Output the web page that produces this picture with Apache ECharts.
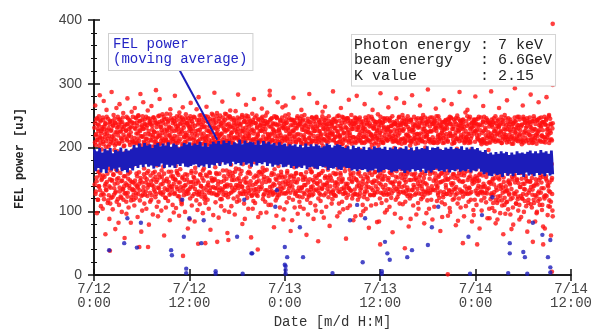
<!DOCTYPE html>
<html>
<head>
<meta charset="utf-8">
<script src="https://cdn.jsdelivr.net/npm/echarts@6/dist/echarts.min.js"></script>
<style>
  html, body { margin: 0; padding: 0; background: #fff; }
  #chart { width: 594px; height: 332px; }
</style>
</head>
<body>
<div id="chart"></div>
<script>
// Time axis in hours from 7/12 0:00; samples run from T_START to T_END.
const T_START = 0.05;
const T_END = 57.7;

const tickLabels = ['7/12\n0:00', '7/12\n12:00', '7/13\n0:00', '7/13\n12:00', '7/14\n0:00', '7/14\n12:00'];

// Shot-by-shot FEL power [uJ], one string per hour of running (detector A)
const shotPowerA = [
  '231 142 208 266 127 219 188 244 153 97 212 171 236 118 226 139 249 203 161 282 133 215 241 108 222 149 197 229',
  '214 128 247 156 205 273 119 233 181 140 221 64 238 134 210 259 146 227 192 113 245 168 201 125 218 88 236 150',
  '242 137 209 121 228 287 149 217 175 103 235 158 251 126 213 196 143 239 72 224 131 206 262 115 231 163 144 248',
  '219 152 236 110 207 268 131 244 186 123 225 147 213 99 240 167 135 229 254 118 202 139 233 58 216 155 192 128',
  '226 115 248 141 211 277 129 237 159 106 220 184 243 136 204 148 231 82 217 122 256 170 239 133 209 145 196 118',
  '238 133 215 262 148 229 194 121 246 159 207 139 234 91 222 127 250 176 211 143 241 117 226 284 152 203 68 232',
  '217 145 243 126 230 271 138 209 167 112 237 153 221 198 131 248 104 214 160 235 124 258 207 142 226 79 191 240',
  '245 129 212 156 236 118 265 201 141 228 183 95 219 150 247 134 224 203 162 239 122 209 290 146 232 107 172 216',
  '223 137 249 115 218 158 240 276 130 206 187 142 233 101 227 154 214 252 126 239 170 211 148 62 244 136 199 221',
  '236 121 210 147 253 228 134 204 179 116 242 162 219 140 231 86 208 260 128 246 155 225 193 139 213 110 238 151',
  '214 143 241 127 226 281 150 207 171 105 233 138 249 160 217 124 230 198 145 210 93 255 132 237 166 221 118 244',
  '228 114 247 152 203 263 136 235 184 125 216 149 240 99 223 141 252 177 209 131 238 157 219 73 246 128 201 232',
  '241 135 213 120 229 270 146 245 163 109 221 190 237 139 206 154 248 127 215 84 234 168 203 143 226 117 260 195',
  '219 148 236 126 210 279 131 243 174 111 228 158 205 140 251 123 232 196 152 214 97 239 136 222 167 247 119 208',
  '233 122 249 157 217 264 139 204 185 118 240 145 226 104 212 161 245 132 235 71 220 178 207 128 253 149 199 230',
  '244 138 215 128 232 286 151 208 169 114 239 160 222 136 254 125 227 201 147 213 90 241 133 218 176 250 119 236',
  '221 146 238 119 209 272 134 247 181 126 230 155 216 101 243 140 225 193 129 252 164 211 142 66 235 122 204 229',
  '237 127 212 162 248 258 141 219 173 108 233 149 224 131 207 155 246 120 238 187 214 95 228 137 257 167 203 242',
  '215 150 234 123 229 283 136 211 166 117 245 143 220 158 237 127 209 196 139 251 80 226 174 216 132 240 112 224',
  '246 131 218 145 207 267 153 240 188 121 227 137 249 104 215 162 233 128 222 170 241 147 211 59 236 124 199 253',
  '228 141 243 116 222 276 129 205 177 113 238 156 213 135 250 146 231 198 124 219 91 244 161 210 138 226 183 235',
  '212 135 239 158 226 261 144 248 168 119 217 150 234 127 208 164 242 115 229 189 214 98 236 133 255 152 204 221',
  '240 124 216 147 233 289 138 209 182 110 245 132 222 160 211 126 238 194 143 227 75 249 166 218 130 237 117 206',
  '225 149 247 121 214 271 135 236 171 125 229 153 208 106 243 139 219 186 157 234 128 210 263 145 241 87 200 230',
  '237 128 211 154 250 266 142 226 175 114 239 163 217 131 231 148 204 121 246 192 222 140 213 69 235 156 197 244',
  '218 139 235 118 227 278 151 243 169 106 214 146 238 129 209 160 230 187 124 249 96 221 172 236 137 212 115 241',
  '245 132 220 158 207 259 137 232 181 122 242 153 216 104 228 141 251 127 213 198 234 150 206 63 239 118 176 224',
  '229 145 241 123 215 284 130 206 166 113 236 138 223 161 247 125 210 194 149 232 88 218 133 245 170 226 109 237',
  '213 134 248 152 230 270 143 218 178 120 209 157 240 128 226 147 235 116 221 185 244 99 214 136 256 163 202 231',
  '236 125 212 141 243 264 155 227 171 107 233 144 219 135 208 165 237 122 249 190 215 77 229 139 222 153 196 240',
  '220 148 239 119 221 288 133 211 183 126 245 140 230 158 216 124 241 199 145 207 92 234 167 225 131 250 112 217',
  '242 130 217 160 234 262 146 205 174 115 228 151 212 103 247 137 223 188 128 239 170 211 143 57 231 121 201 246',
  '224 143 246 126 211 275 136 238 165 109 219 159 235 132 251 148 206 120 229 193 242 86 216 153 237 127 180 209',
  '239 127 214 150 228 281 139 244 178 118 210 145 232 161 220 123 247 196 134 215 94 236 168 207 142 226 110 241',
  '217 151 236 122 207 268 131 229 170 104 243 137 218 154 238 119 212 185 147 249 74 224 160 233 126 209 198 219',
  '234 136 219 157 245 259 144 213 182 125 230 148 206 129 237 162 221 111 240 191 215 83 227 135 252 155 204 231',
  '212 144 241 120 223 285 129 235 167 113 216 156 239 138 208 150 246 126 230 194 219 98 242 141 214 171 117 227',
  '246 126 211 149 232 263 152 220 176 107 241 134 225 160 213 121 234 188 145 249 67 218 164 236 132 210 199 238',
  '221 147 237 118 216 277 135 242 184 122 209 153 231 127 247 143 222 112 238 197 213 89 235 166 206 138 228 251',
  '238 131 214 158 229 270 140 207 163 115 236 146 220 133 244 159 211 124 232 186 217 76 240 149 225 120 203 244',
  '215 149 243 124 210 282 133 231 179 109 227 157 248 138 219 126 235 193 152 212 95 238 169 221 135 246 113 207',
  '233 128 220 154 239 266 147 214 172 119 245 140 210 161 229 122 251 189 131 217 81 234 158 208 144 226 196 239',
  '219 142 236 117 224 291 136 241 183 104 213 151 233 129 208 163 240 118 225 192 247 87 216 134 237 170 207 228',
  '244 133 212 159 231 261 148 226 168 116 238 139 217 126 249 154 209 121 236 195 220 69 231 146 213 160 114 240',
  '226 147 239 122 215 274 130 208 176 111 230 155 243 137 221 127 236 188 150 211 93 245 165 218 132 240 105 223',
  '237 126 218 153 246 268 141 229 180 118 212 144 233 158 207 120 240 194 135 223 78 237 167 214 128 250 112 231',
  '214 150 235 120 227 287 134 242 171 106 219 157 238 131 211 146 229 123 244 186 216 92 232 160 209 139 255 226',
  '241 129 216 163 234 259 149 213 178 115 236 137 222 128 248 155 208 118 231 197 218 84 239 143 225 168 102 244',
  '222 145 243 118 209 280 132 238 166 110 228 152 214 136 245 126 233 191 148 220 73 236 159 211 131 247 117 205',
  '235 131 213 156 240 265 143 226 184 121 209 139 231 161 219 114 246 187 128 215 89 241 170 224 136 208 104 238',
  '216 146 237 119 222 288 128 244 163 105 232 151 211 125 239 142 226 100 218 178 249 81 229 137 212 158 113 234',
  '242 123 210 152 233 262 140 219 171 97 238 135 224 157 207 117 243 168 129 214 64 236 146 221 110 251 131 228',
  '220 139 235 114 216 274 133 229 159 103 246 148 209 126 237 144 213 95 240 175 225 72 232 154 218 121 106 206',
  '238 128 214 158 241 293 145 223 169 112 230 131 217 150 248 119 210 101 235 180 219 87 244 138 227 160 124 233',
  '213 151 236 120 211 266 127 245 162 99 224 143 239 134 215 155 231 108 222 171 246 68 212 147 238 118 129 207',
  '240 133 219 147 232 283 138 212 176 106 241 126 226 159 208 140 249 113 229 166 215 84 237 150 220 123 97 242',
  '222 142 244 116 225 271 131 235 168 110 211 152 233 129 247 145 218 102 239 173 227 76 209 136 240 161 120 216',
  '236 125 213 155 243 279 148 228 164 94 234 139 220 132 251 117 212 107 245 178 223 62 236 149 211 127 101 238'
];

// Interleaved shots, one string per hour (detector B)
const shotPowerB = [
  '238 204 131 221 147 246 212 118 229 162 235 139 217 156 243 208 125 226 187 151 232 104',
  '209 243 126 228 154 216 237 143 201 133 248 222 159 214 117 230 176 139 205 240 112 164',
  '226 213 148 241 122 207 234 157 219 136 245 203 129 238 166 211 150 224 194 119 232 82',
  '244 206 137 225 160 239 215 121 232 148 210 247 134 220 155 203 128 236 181 144 227 96',
  '213 236 123 246 151 218 229 140 208 161 241 224 117 233 146 211 135 248 173 126 206 109',
  '231 209 142 247 128 222 239 155 214 137 250 206 161 227 133 242 148 218 190 124 235 101',
  '249 217 132 229 158 207 244 126 236 145 213 231 150 202 137 246 163 221 179 141 238 115',
  '220 241 147 211 125 234 216 160 247 139 225 209 131 243 154 214 127 238 195 149 206 92',
  '237 205 136 250 153 219 232 128 211 164 242 223 143 207 130 248 159 228 183 121 215 106',
  '212 245 151 226 133 240 208 146 233 126 219 252 138 215 162 230 134 243 176 155 209 98',
  '246 218 129 237 149 211 228 163 243 135 207 234 157 224 123 249 145 213 188 138 239 111',
  '225 206 154 244 131 231 217 140 209 158 246 220 127 238 150 215 133 235 192 145 226 87',
  '233 249 138 215 160 226 241 124 230 146 212 204 152 247 135 221 161 209 178 130 243 102',
  '208 227 145 239 127 250 213 157 222 139 236 244 130 217 164 206 148 232 197 126 214 113',
  '242 211 133 227 155 218 248 141 206 129 233 225 160 241 137 224 152 210 184 147 251 94',
  '216 238 149 244 136 209 230 126 249 158 221 214 142 232 128 245 159 219 195 136 207 108',
  '234 222 131 212 164 241 207 148 228 138 253 236 125 210 151 227 139 246 181 158 218 99',
  '249 209 155 233 129 223 244 137 214 160 207 231 149 243 133 216 162 236 200 141 225 115',
  '222 247 140 216 152 238 211 129 235 147 226 209 163 248 138 230 127 214 187 150 241 88',
  '210 231 127 250 145 214 236 160 221 132 245 218 141 206 159 239 134 227 193 125 212 104',
  '240 213 153 226 134 247 209 143 238 126 216 232 155 221 131 244 148 208 185 162 234 97',
  '227 246 138 211 161 229 242 125 207 154 237 224 133 250 146 213 165 239 198 129 219 110',
  '215 208 149 243 130 220 233 157 246 139 212 229 128 236 158 224 141 210 182 151 248 93',
  '246 235 126 218 156 209 227 144 223 131 241 206 162 215 135 247 153 231 196 137 214 103',
  '232 217 147 238 128 244 214 160 210 143 228 252 136 221 154 206 129 243 189 146 225 86',
  '209 242 133 225 155 217 239 127 231 159 208 220 145 246 132 234 150 213 184 123 237 107',
  '238 211 158 249 137 228 206 149 244 129 219 235 154 212 141 225 161 208 191 133 245 95',
  '224 232 125 214 150 240 220 134 208 162 247 211 139 230 127 241 146 226 180 155 210 101',
  '247 206 144 233 132 215 243 158 225 137 212 238 126 219 160 207 135 249 194 142 229 90',
  '213 239 152 221 128 246 210 141 236 153 229 216 148 242 131 223 156 211 187 128 234 112',
  '236 224 130 244 160 212 231 125 217 145 240 207 159 226 136 249 142 220 178 151 209 98',
  '219 210 157 230 135 238 248 148 206 127 222 243 134 214 163 232 129 245 199 140 218 105',
  '242 228 136 208 151 223 215 133 241 156 210 229 146 237 125 216 160 233 183 134 247 92',
  '207 246 149 239 126 216 232 159 227 140 244 212 128 222 155 240 137 209 192 147 230 100',
  '231 217 127 224 158 247 209 143 214 131 236 225 152 243 138 211 164 238 176 125 221 109',
  '248 204 146 215 133 230 242 126 233 161 218 240 139 208 147 226 130 214 197 153 236 84',
  '220 241 160 248 142 208 226 150 211 128 239 207 163 232 134 245 155 224 185 129 213 102',
  '211 229 135 231 127 243 217 161 246 145 225 234 128 215 157 209 143 240 190 138 228 96',
  '237 212 154 210 163 226 235 132 219 138 207 248 145 227 130 236 158 212 181 152 242 111',
  '226 246 129 240 149 214 209 154 236 127 242 220 137 249 162 218 133 229 194 126 210 88',
  '243 208 158 227 134 237 224 141 213 150 233 215 159 206 128 244 149 221 179 143 231 104',
  '214 233 140 212 157 222 246 127 238 135 210 241 146 224 152 229 126 247 200 131 216 97',
  '240 219 131 245 128 210 213 163 225 158 247 226 133 211 139 237 161 208 186 148 239 107',
  '208 242 152 233 142 249 231 136 207 129 220 213 156 244 145 215 131 234 193 159 223 91',
  '232 207 126 219 161 228 240 149 242 141 214 236 127 230 160 209 150 243 177 133 248 99',
  '221 247 144 236 130 206 218 158 229 134 244 208 152 219 126 246 138 213 198 155 227 85',
  '245 225 160 210 147 234 241 129 216 163 231 243 131 237 147 222 156 207 182 127 212 108',
  '216 211 135 249 127 221 207 153 245 136 209 229 162 214 130 238 148 232 189 150 240 94',
  '234 238 150 226 155 244 225 128 219 147 236 214 140 248 157 211 129 227 175 138 208 101',
  '210 223 128 241 138 213 248 162 207 129 228 239 154 206 134 243 160 218 196 145 233 89',
  '239 208 143 215 126 235 219 148 240 113 213 246 130 225 152 209 118 238 180 133 221 87',
  '223 244 117 232 150 211 236 124 226 141 248 207 109 217 137 241 153 229 171 121 212 96',
  '246 216 132 208 115 240 213 146 233 128 220 227 142 244 119 216 135 206 183 150 237 79',
  '212 229 155 247 127 224 241 112 211 149 235 214 123 230 144 248 110 221 168 138 209 91',
  '235 205 120 219 143 248 208 135 244 116 226 239 151 210 126 233 147 242 177 113 225 84',
  '220 247 146 236 111 213 230 152 207 134 241 218 118 245 140 212 125 228 170 144 206 99',
  '243 218 128 211 149 227 246 119 238 157 209 233 136 219 110 240 154 216 185 123 248 73',
  '208 236 151 245 124 216 222 141 229 108 249 207 145 226 130 237 115 213 174 152 230 92'
];

// Isolated shots far from the bulk: [hour, uJ]
const shotOutliers = [
  [2.0, 38], [5.7, 44], [6.8, 44], [11.2, 30], [13.1, 49], [14.0, 50], [15.5, 52],
  [16.9, 55], [20.6, 40], [22.1, 282], [28.2, 53], [36.0, 48], [39.1, 42], [44.5, 1],
  [46.4, 50], [48.2, 48], [55.2, 52], [56.5, 48], [57.6, 5],
  [57.7, 394], [57.7, 366], [57.7, 347], [57.7, 328], [57.7, 311], [57.7, 298]
];

// Moving average of FEL power [uJ], six samples per hour
const avgPower = [
  '197 163 194 168 199 161', '192 166 198 160 195 170', '199 164 191 167 196 162', '194 169 200 163 193 165',
  '198 161 195 168 197 164', '204 171 200 168 206 173', '201 169 207 174 203 170', '205 172 199 167 204 171',
  '207 170 202 175 206 168', '203 173 208 169 201 172', '206 168 204 174 200 171', '202 175 207 170 205 169',
  '208 171 203 173 206 174', '204 169 209 172 202 170', '207 174 201 168 205 173', '209 172 206 176 210 171',
  '205 177 211 173 207 175', '210 171 204 178 208 174', '206 176 212 172 205 177', '211 173 207 175 209 170',
  '208 178 204 172 211 176', '204 174 210 177 206 171', '209 175 205 170 207 173', '203 172 208 174 204 169',
  '206 170 202 173 205 168', '203 171 205 167 201 170', '204 168 200 172 206 166', '201 169 205 170 202 167',
  '205 166 203 171 200 169', '202 170 206 165 204 168', '200 167 203 169 205 166', '204 165 201 170 199 168',
  '202 168 197 164 203 166', '199 163 201 166 197 165', '201 166 196 162 200 164', '197 164 202 167 199 161',
  '200 162 198 165 201 166', '196 165 200 161 198 163', '201 163 197 166 199 164', '198 160 202 164 196 162',
  '200 166 195 163 201 165', '197 162 199 167 198 160', '202 164 196 161 200 165', '199 167 201 163 197 164',
  '196 162 200 166 198 161', '201 165 197 163 199 166', '198 162 202 164 196 163', '200 166 197 161 201 164',
  '197 163 199 167 195 162', '193 158 196 161 190 156', '192 155 189 159 193 157', '190 158 194 154 191 160',
  '193 156 188 159 192 155', '189 160 194 157 191 158', '192 154 190 161 193 156', '195 158 191 155 194 160',
  '191 157 196 159 192 155', '194 160 190 156 195 158'
];

// Moving-average points that dropped out of the band: [hour, uJ]
const avgOutliers = [
  [5.9, 82], [11.3, 60], [12.0, 89], [13.8, 86], [9.7, 39], [9.8, 31], [1.9, 39], [19.8, 34],
  [13.5, 50], [3.8, 50], [5.4, 43], [18.9, 118], [11.1, 118], [4.2, 89], [18.0, 60],
  [22.8, 107], [24.0, 44], [24.3, 28], [24.0, 16], [19.9, 34], [33.1, 110], [32.2, 86], [34.1, 89],
  [36.6, 52], [36.9, 34], [37.2, 24], [25.9, 75], [26.3, 28], [33.8, 20], [39.4, 28], [23.0, 133],
  [42.5, 75], [47.1, 60], [48.8, 94], [52.3, 50], [52.3, 34], [54.0, 36], [54.2, 28], [56.4, 63],
  [57.1, 28], [57.4, 55], [40.0, 39], [42.0, 47], [43.3, 107], [55.2, 82], [50.1, 122],
  [11.6, 3], [11.6, 10], [15.3, 2], [15.3, 6], [18.7, 2], [24.1, 2], [24.1, 8], [24.1, 14],
  [30.0, 3], [36.2, 2], [36.2, 6], [47.3, 2], [52.1, 3], [54.5, 2], [57.4, 4], [57.4, 12]
];

// Spread each list of readings evenly over the run time, with an optional start offset
function toSeries(groups, offset) {
  const vals = groups.join(' ').trim().split(/\s+/).map(Number);
  const n = vals.length;
  const t0 = T_START + (offset || 0);
  return vals.map((v, i) => [t0 + (T_END - t0) * i / (n - 1), v]);
}

const RED = '#ff1010';
const BLUE = '#1c1cba';
const MONO = '"Liberation Mono", "DejaVu Sans Mono", monospace';

const chart = echarts.init(document.getElementById('chart'), null, { renderer: 'canvas' });

const xBase = {
  type: 'value', min: 0, max: 60, interval: 12,
  splitLine: { show: false },
  axisLine: { show: true, lineStyle: { color: '#111', width: 1.5 } },
  axisTick: { show: true, inside: true, length: 6, lineStyle: { color: '#111', width: 1.5 } }
};
const yBase = {
  type: 'value', min: 0, max: 400, interval: 100,
  splitLine: { show: false },
  axisLine: { show: true, lineStyle: { color: '#111', width: 1.5 } },
  axisTick: { show: true, inside: true, length: 6, lineStyle: { color: '#111', width: 1.5 } },
  minorTick: { show: true, splitNumber: 5, length: 3, lineStyle: { color: '#111', width: 1 } }
};

chart.setOption({
  animation: false,
  backgroundColor: '#fff',
  grid: { left: 94, right: 23, top: 20, bottom: 57, containLabel: false, outerBoundsMode: 'none' },
  xAxis: [
    Object.assign({}, xBase, {
      position: 'bottom',
      name: 'Date [m/d H:M]', nameLocation: 'middle', nameGap: 37,
      nameTextStyle: { fontFamily: MONO, fontSize: 14, color: '#333' },
      axisLabel: {
        margin: 7, fontFamily: MONO, fontSize: 14, lineHeight: 14, color: '#444',
        formatter: v => tickLabels[Math.round(v / 12)] || ''
      }
    }),
    Object.assign({}, xBase, { position: 'top', axisLabel: { show: false } })
  ],
  yAxis: [
    Object.assign({}, yBase, {
      position: 'left',
      name: 'FEL power [uJ]', nameLocation: 'middle', nameGap: 68,
      nameTextStyle: { fontFamily: MONO, fontSize: 12, fontWeight: 'bold', color: '#222', padding: [0, 22, 0, 0] },
      axisLabel: { margin: 12, fontFamily: '"Liberation Sans", Arial, sans-serif', fontSize: 14, color: '#444' }
    }),
    Object.assign({}, yBase, { position: 'right', axisLabel: { show: false } })
  ],
  series: [
    {
      name: 'FEL power', type: 'scatter', symbol: 'circle', symbolSize: 4.6, silent: true,
      itemStyle: { color: RED },
      data: toSeries(shotPowerA).concat(toSeries(shotPowerB, 0.1), shotOutliers)
    },
    {
      name: 'FEL power (moving average)', type: 'line', showSymbol: false, silent: true,
      lineStyle: { color: BLUE, width: 2.8 },
      data: toSeries(avgPower)
    },
    {
      name: 'moving average outliers', type: 'scatter', symbol: 'circle', symbolSize: 4.4, silent: true,
      itemStyle: { color: BLUE },
      data: avgOutliers,
      markLine: {
        silent: true, symbol: ['none', 'none'], animation: false,
        label: { show: false },
        lineStyle: { color: BLUE, width: 2, type: 'solid' },
        data: [[{ coord: [10.6, 325] }, { coord: [15.5, 212] }]]
      }
    }
  ],
  graphic: [
    {
      type: 'text', left: 108, top: 33, z: 100,
      style: {
        text: 'FEL power\n(moving average)',
        font: '14px ' + MONO, fill: '#2424c4', lineHeight: 15,
        backgroundColor: '#fff', borderColor: '#cfcfcf', borderWidth: 1,
        padding: [3, 5, 3, 4]
      }
    },
    {
      type: 'text', left: 351, top: 34, z: 100,
      style: {
        text: 'Photon energy : 7 keV\nbeam energy   : 6.6GeV\nK value       : 2.15',
        font: '15px ' + MONO, fill: '#222', lineHeight: 15.5,
        backgroundColor: '#fff', borderColor: '#d4d4d4', borderWidth: 1,
        padding: [2, 3, 2, 2]
      }
    }
  ]
});
</script>
</body>
</html>
